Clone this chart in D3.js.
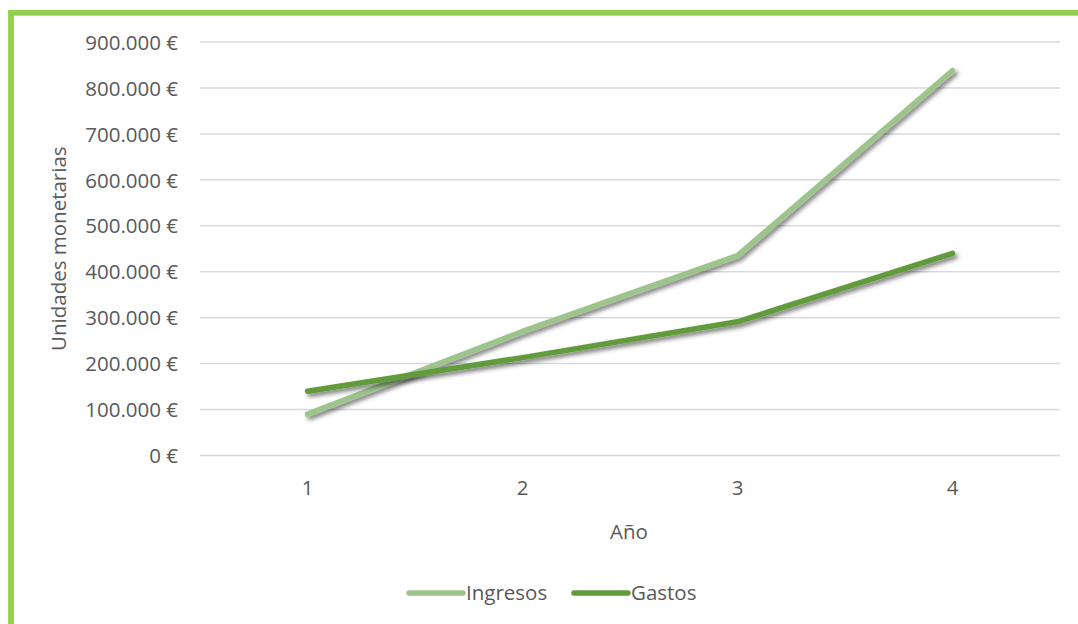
<!DOCTYPE html>
<html><head><meta charset="utf-8">
<script src="https://cdn.jsdelivr.net/npm/d3@7"></script>
<style>html,body{margin:0;padding:0;background:#fff;} svg{display:block;}</style>
</head><body>
<script>
const years = ["1", "2", "3", "4"];
const ingresos = [90000, 270000, 435000, 838000];
const gastos = [140000, 213000, 291000, 440000];
const yTicks = [0, 100000, 200000, 300000, 400000, 500000, 600000, 700000, 800000, 900000];
const seriesNames = ["Ingresos", "Gastos"];
const seriesColors = ["#9dc58b", "#629b3b"];

const W = 1078, H = 624;
const FONT = "'Open Sans', sans-serif";
const FS = 20.5;
const TXT = "#595959";
const svg = d3.select("body").append("svg").attr("width", W).attr("height", H);
svg.append("rect").attr("width", W).attr("height", H).attr("fill", "#fff");

const defs = svg.append("defs");
const f = defs.append("filter").attr("id", "sh").attr("x", "-20%").attr("y", "-20%").attr("width", "140%").attr("height", "140%");
f.append("feDropShadow").attr("dx", 2.5).attr("dy", 3).attr("stdDeviation", 2.2).attr("flood-color", "#000").attr("flood-opacity", 0.5);

// border
svg.append("rect").attr("x", 11).attr("y", 12.8).attr("width", W + 20).attr("height", H + 20)
  .attr("fill", "none").attr("stroke", "#92d050").attr("stroke-width", 5.8);

const x = d3.scaleBand().domain(years).range([200, 1060]);
const y = d3.scaleLinear().domain([0, 900000]).range([455.5, 42]);

// gridlines
svg.append("g").selectAll("line").data(yTicks).join("line")
  .attr("x1", 200).attr("x2", 1060)
  .attr("y1", d => y(d)).attr("y2", d => y(d))
  .attr("stroke", "#d9d9d9").attr("stroke-width", 1.5);

// y axis labels
const fmt = d => d3.format(",")(d).replace(/,/g, ".") + " €";
const yAxis = d3.axisLeft(y).tickValues(yTicks).tickFormat(fmt).tickSize(0).tickPadding(0);
const gy = svg.append("g").attr("transform", "translate(178,0)").call(yAxis);
gy.select(".domain").remove();
gy.selectAll("text").attr("font-family", FONT).attr("font-size", FS).attr("fill", TXT).attr("dy", "0.35em");

// x axis labels
const xAxis = d3.axisBottom(x).tickSize(0).tickPadding(0);
const gx = svg.append("g").attr("transform", "translate(0,480)").call(xAxis);
gx.select(".domain").remove();
gx.selectAll("text").attr("font-family", FONT).attr("font-size", FS).attr("fill", TXT).attr("dy", "0.71em");

// axis titles
svg.append("text").attr("x", 629).attr("y", 539).attr("text-anchor", "middle")
  .attr("font-family", FONT).attr("font-size", FS).attr("fill", TXT).text("Año");
svg.append("text").attr("transform", "translate(66,248.7) rotate(-90)").attr("text-anchor", "middle")
  .attr("font-family", FONT).attr("font-size", FS).attr("fill", TXT).text("Unidades monetarias");

// lines
const line = d3.line().x((d, i) => x(years[i]) + x.bandwidth() / 2).y(d => y(d));
[ingresos, gastos].forEach((s, i) => {
  svg.append("path").datum(s).attr("d", line).attr("fill", "none")
    .attr("stroke", seriesColors[i]).attr("stroke-width", 5.5)
    .attr("stroke-linecap", "round").attr("stroke-linejoin", "round")
    .attr("filter", "url(#sh)");
});

// legend
const legX = [409, 574];
seriesNames.forEach((n, i) => {
  const g = svg.append("g").attr("transform", `translate(${legX[i]},593)`);
  g.append("line").attr("x1", 0).attr("x2", 54).attr("y1", 0).attr("y2", 0)
    .attr("stroke", seriesColors[i]).attr("stroke-width", 5.5).attr("stroke-linecap", "round");
  g.append("text").attr("x", 57).attr("y", 0).attr("dy", "0.35em")
    .attr("font-family", FONT).attr("font-size", FS).attr("fill", TXT).text(n);
});
</script>
</body></html>
